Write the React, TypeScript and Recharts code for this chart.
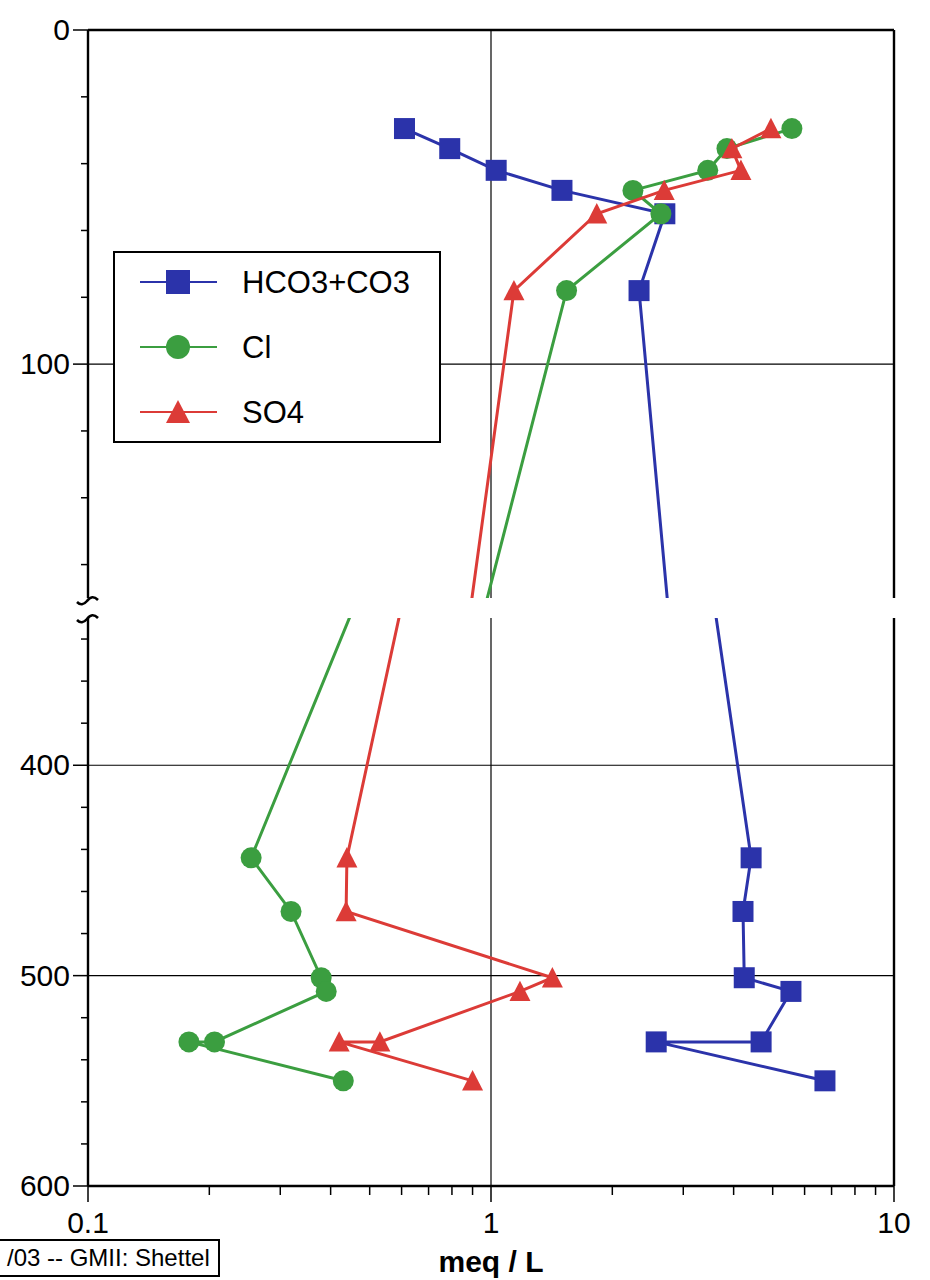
import React from 'react';
import { ScatterChart, Scatter, XAxis, YAxis, ReferenceLine, Legend } from 'recharts';

// depth (ft) of the samples, shallow group then deep group
const topDepths = [29.5, 35.5, 42, 48, 55, 78];
const bottomDepths = [444, 469.5, 501, 507.5, 531.5, 531.5, 550];

// meq / L, same order as the depths
const hco3Values = [0.61, 0.79, 1.03, 1.5, 2.7, 2.33, 4.42, 4.22, 4.25, 5.55, 4.68, 2.57, 6.74];
const clValues = [5.58, 3.85, 3.45, 2.25, 2.64, 1.54, 0.254, 0.319, 0.379, 0.39, 0.206, 0.178, 0.43];
const so4Values = [4.95, 3.96, 4.17, 2.69, 1.83, 1.14, 0.439, 0.437, 1.42, 1.18, 0.53, 0.42, 0.9];

const xTicks = [0.1, 0.2, 0.3, 0.4, 0.5, 0.6, 0.7, 0.8, 0.9, 1, 2, 3, 4, 5, 6, 7, 8, 9, 10];
const xLabels = [0.1, 1, 10];
const topYTicks = [0, 20, 40, 60, 80, 100, 120, 140, 160];
const topYLabels = [0, 100];
const bottomYTicks = [340, 360, 380, 400, 420, 440, 460, 480, 500, 520, 540, 560, 580, 600];
const bottomYLabels = [400, 500, 600];

const series = [
  { name: 'HCO3+CO3', values: hco3Values, color: '#2b33aa', shape: 'square' },
  { name: 'Cl', values: clValues, color: '#3b9e40', shape: 'circle' },
  { name: 'SO4', values: so4Values, color: '#dc3b37', shape: 'triangle' },
];

const allDepths = topDepths.concat(bottomDepths);
const toPoints = (values: number[]) => values.map((v, i) => ({ x: v, y: allDepths[i] }));

const FONT = '"Liberation Sans", Arial, Helvetica, sans-serif';

function Marker({ kind, cx, cy, color, r = 10.5 }: any) {
  if (cx == null || cy == null) return null;
  if (kind === 'square') {
    return <rect x={cx - r} y={cy - r} width={r * 2} height={r * 2} fill={color} />;
  }
  if (kind === 'circle') {
    return <circle cx={cx} cy={cy} r={r} fill={color} />;
  }
  const h = r * 1.85;
  return (
    <polygon
      points={`${cx},${cy - h / 2 - 1} ${cx + r},${cy + h / 2} ${cx - r},${cy + h / 2}`}
      fill={color}
    />
  );
}

const YTick = (props: any) => {
  const { x, y, payload, labels } = props;
  const major = labels.includes(payload.value);
  return (
    <g>
      <line x1={x - (major ? 15 : 7)} x2={x} y1={y} y2={y} stroke="#000" strokeWidth={1.5} />
      {major && (
        <text x={x - 18} y={y + 10} textAnchor="end" fontSize={30} fill="#000" fontFamily={FONT}>
          {payload.value}
        </text>
      )}
    </g>
  );
};

const XTick = (props: any) => {
  const { x, y, payload } = props;
  const major = xLabels.includes(payload.value);
  return (
    <g>
      <line x1={x} x2={x} y1={y} y2={y + (major ? 16 : 9)} stroke="#000" strokeWidth={1.5} />
      {major && (
        <text x={x} y={y + 47} textAnchor="middle" fontSize={30} fill="#000" fontFamily={FONT}>
          {payload.value}
        </text>
      )}
    </g>
  );
};

const LegendBox = () => (
  <div
    style={{
      width: 328,
      height: 192,
      boxSizing: 'border-box',
      border: '2px solid #000',
      background: '#fff',
    }}
  >
    <svg width={324} height={188}>
      {series.map((s, i) => {
        const cy = 29 + i * 65;
        return (
          <g key={s.name}>
            <line x1={25} x2={102} y1={cy} y2={cy} stroke={s.color} strokeWidth={2.2} />
            <Marker kind={s.shape} cx={63} cy={cy} color={s.color} r={12} />
            <text x={127} y={cy + 11} fontSize={31} fill="#000" fontFamily={FONT}>
              {s.name}
            </text>
          </g>
        );
      })}
    </svg>
  </div>
);

const renderSeries = () =>
  series.map((s) => (
    <Scatter
      key={s.name}
      name={s.name}
      data={toPoints(s.values)}
      fill={s.color}
      line={{ stroke: s.color, strokeWidth: 3 }}
      lineType="joint"
      shape={(p: any) => <Marker kind={s.shape} cx={p.cx} cy={p.cy} color={s.color} />}
      isAnimationActive={false}
    />
  ));

export default function App() {
  return (
    <div
      style={{
        position: 'absolute',
        left: 0,
        top: 0,
        width: 930,
        height: 1280,
        background: '#fff',
        fontFamily: FONT,
        overflow: 'hidden',
      }}
    >
      <div style={{ position: 'absolute', left: 0, top: 0 }}>
        <ScatterChart width={930} height={620} margin={{ top: 30, right: 36, bottom: 22, left: 0 }}>
          <XAxis dataKey="x" type="number" scale="log" domain={[0.1, 10]} allowDataOverflow hide />
          <YAxis
            dataKey="y"
            type="number"
            domain={[0, 170]}
            reversed
            allowDataOverflow
            ticks={topYTicks}
            interval={0}
            width={88}
            tickSize={0}
            tickMargin={0}
            tickLine={false}
            axisLine={{ stroke: '#000', strokeWidth: 2.4 }}
            tick={(p: any) => <YTick {...p} labels={topYLabels} />}
          />
          <ReferenceLine y={100} stroke="#000" strokeWidth={1.2} />
          <ReferenceLine x={1} stroke="#000" strokeWidth={1.2} />
          <ReferenceLine y={0} stroke="#000" strokeWidth={2.4} />
          <ReferenceLine x={10} stroke="#000" strokeWidth={2.4} />
          {renderSeries()}
          <Legend
            layout="vertical"
            align="center"
            verticalAlign="middle"
            content={() => <LegendBox />}
            wrapperStyle={{ position: 'absolute', left: 113, top: 251, width: 328, height: 192 }}
          />
        </ScatterChart>
      </div>

      <div style={{ position: 'absolute', left: 0, top: 600 }}>
        <ScatterChart width={930} height={680} margin={{ top: 18, right: 36, bottom: 0, left: 0 }}>
          <XAxis
            dataKey="x"
            type="number"
            scale="log"
            domain={[0.1, 10]}
            allowDataOverflow
            ticks={xTicks}
            interval={0}
            height={94}
            tickSize={0}
            tickMargin={0}
            tickLine={false}
            axisLine={{ stroke: '#000', strokeWidth: 2.4 }}
            tick={(p: any) => <XTick {...p} />}
            label={{
              value: 'meq / L',
              position: 'insideBottom',
              offset: 8,
              fontSize: 30,
              fontWeight: 'bold',
              fill: '#000',
              fontFamily: FONT,
            }}
          />
          <YAxis
            dataKey="y"
            type="number"
            domain={[330, 600]}
            reversed
            allowDataOverflow
            ticks={bottomYTicks}
            interval={0}
            width={88}
            tickSize={0}
            tickMargin={0}
            tickLine={false}
            axisLine={{ stroke: '#000', strokeWidth: 2.4 }}
            tick={(p: any) => <YTick {...p} labels={bottomYLabels} />}
          />
          <ReferenceLine y={400} stroke="#000" strokeWidth={1.2} />
          <ReferenceLine y={500} stroke="#000" strokeWidth={1.2} />
          <ReferenceLine x={1} stroke="#000" strokeWidth={1.2} />
          <ReferenceLine x={10} stroke="#000" strokeWidth={2.4} />
          {renderSeries()}
        </ScatterChart>
      </div>

      {/* axis break marks */}
      <svg
        width={930}
        height={1280}
        style={{ position: 'absolute', left: 0, top: 0, pointerEvents: 'none' }}
      >
        <path d="M77,602 q5,5 10,-1 q5,-7 11,-1" fill="none" stroke="#000" strokeWidth={2.6} />
        <path d="M77,620 q5,5 10,-1 q5,-7 11,-1" fill="none" stroke="#000" strokeWidth={2.6} />
      </svg>

      <div
        style={{
          position: 'absolute',
          left: -3,
          top: 1239,
          height: 38,
          boxSizing: 'border-box',
          border: '2px solid #000',
          padding: '0 8px 0 8px',
          fontSize: 24,
          lineHeight: '34px',
          background: '#fff',
          whiteSpace: 'nowrap',
        }}
      >
        /03 -- GMII: Shettel
      </div>
    </div>
  );
}
